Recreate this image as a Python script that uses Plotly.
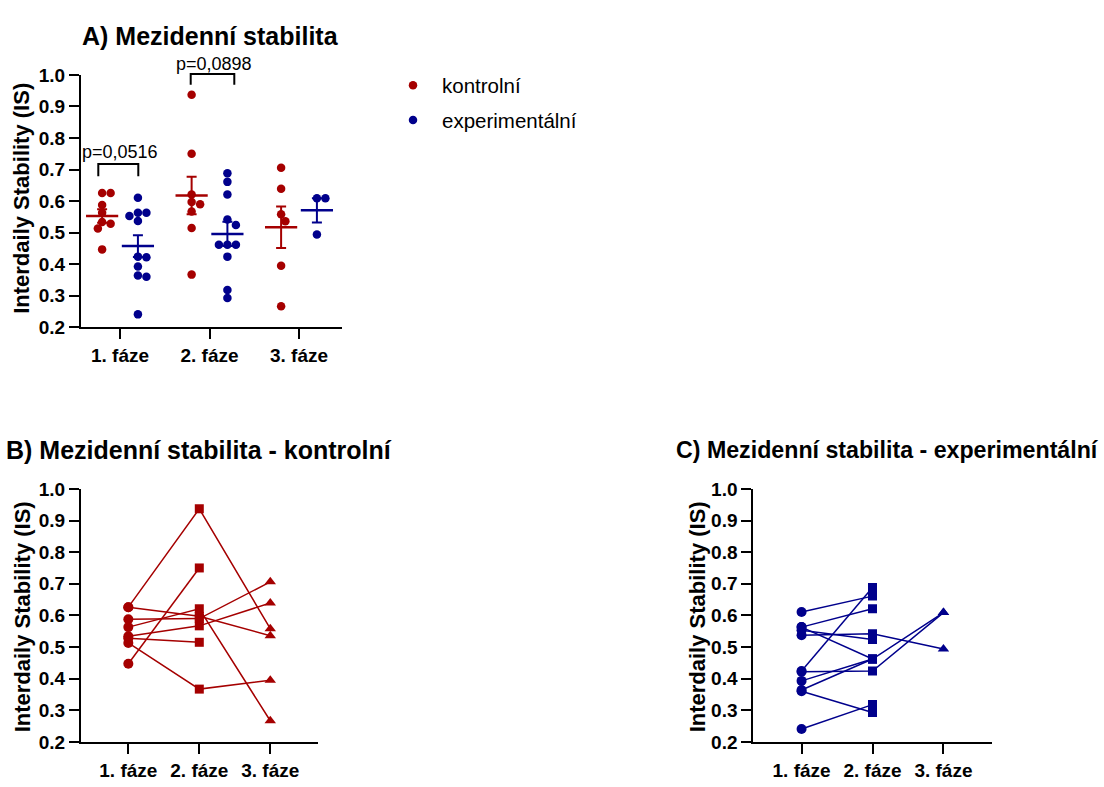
import numpy as np
import plotly.graph_objects as go

# ---------------- data ----------------
phases = ["1. fáze", "2. fáze", "3. fáze"]
groups = ["kontrolní", "experimentální"]

# control subjects (one entry per subject, NaN = no measurement)
ctrl_f1 = [0.626, 0.626, 0.588, 0.563, 0.534, 0.528, 0.513, 0.447]
ctrl_f2 = [0.937, 0.597, 0.590, 0.621, 0.567, 0.515, 0.367, 0.750]
ctrl_f3 = [0.558, 0.536, 0.706, 0.267, 0.639, np.nan, 0.395, np.nan]

# experimental subjects
exp_f1 = [0.611, 0.563, 0.563, 0.553, 0.537, 0.424, 0.422, 0.393, 0.364, 0.360, 0.241]
exp_f2 = [0.661, 0.621, 0.462, 0.524, 0.542, 0.688, 0.424, 0.462, 0.462, 0.293, 0.318]
exp_f3 = [np.nan, np.nan, np.nan, np.nan, 0.494, np.nan, 0.609, 0.609, np.nan, np.nan, np.nan]

p_labels = ["p=0,0516", "p=0,0898"]
yticks = [0.2, 0.3, 0.4, 0.5, 0.6, 0.7, 0.8, 0.9, 1.0]

RED = "#A50000"
BLUE = "#00008C"
FONT = "Arial, Liberation Sans, sans-serif"
W, H = 1104, 787


def px(x):
    return x / W


def py(y):
    return 1 - y / H


def swarm_offsets(vals, xpx, ypx, diam):
    vals = np.asarray(vals, dtype=float)
    order = np.argsort(-vals)
    placed = []
    offs = np.zeros(len(vals))
    cands = [0.0]
    for k in range(1, 12):
        cands += [k * diam * 0.5, -k * diam * 0.5]
    for i in order:
        yv = vals[i] * ypx
        chosen = cands[-1]
        for c in cands:
            if all((c - a) ** 2 + (yv - b) ** 2 >= (diam * 0.9) ** 2 for a, b in placed):
                chosen = c
                break
        placed.append((chosen, yv))
        offs[i] = chosen / xpx
    return offs


fig = go.Figure()

ctrl = [ctrl_f1, ctrl_f2, ctrl_f3]
expe = [exp_f1, exp_f2, exp_f3]

# ---------------- panel A ----------------
XPX_A, YPX_A = 89.5, 324.0
for gname, data, col, shift, lg in [("kontrolní", ctrl, RED, -0.2, "k"),
                                    ("experimentální", expe, BLUE, 0.2, "e")]:
    xs, ys = [], []
    means, sems, mx = [], [], []
    for pi, vals in enumerate(data):
        v = np.array([a for a in vals if not np.isnan(a)])
        off = swarm_offsets(v, XPX_A, YPX_A, 8.5)
        xs += list(pi + shift + off)
        ys += list(v)
        means.append(v.mean())
        sems.append(v.std(ddof=1) / np.sqrt(len(v)))
        mx.append(pi + shift)
    fig.add_trace(go.Scatter(
        x=xs, y=ys, mode="markers", name=gname, legendgroup=lg,
        marker=dict(color=col, size=8.5, opacity=1), xaxis="x", yaxis="y", showlegend=True))
    fig.add_trace(go.Scatter(
        x=mx, y=means, mode="markers", showlegend=False, xaxis="x", yaxis="y",
        marker=dict(symbol="line-ew", size=23, color=col, line=dict(color=col, width=2.5)),
        error_y=dict(type="data", array=sems, symmetric=True, color=col, thickness=2, width=5)))

# ---------------- panels B, C ----------------
symbols = ["circle", "square", "triangle-up"]
sizes = [10, 9, 10]
for data, col, xa, ya in [(ctrl, RED, "x2", "y2"), (expe, BLUE, "x3", "y3")]:
    nsub = len(data[0])
    for s in range(nsub):
        yv = [data[p][s] for p in range(3)]
        xv = [p for p in range(3) if not np.isnan(yv[p])]
        yy = [yv[p] for p in xv]
        fig.add_trace(go.Scatter(
            x=xv, y=yy, mode="lines+markers", showlegend=False, xaxis=xa, yaxis=ya,
            line=dict(color=col, width=1.5),
            marker=dict(color=col, opacity=1, symbol=[symbols[p] for p in xv],
                        size=[sizes[p] for p in xv], line=dict(width=0))))

# ---------------- axes ----------------
tickfont = dict(family=FONT, size=19, color="black", weight="bold")
common_x = dict(tickmode="array", tickvals=[0, 1, 2], ticktext=phases, showline=True,
                linewidth=2, linecolor="black", ticks="outside", ticklen=10, tickwidth=2,
                tickcolor="black", showgrid=False, zeroline=False, tickfont=tickfont,
                fixedrange=True)
common_y = dict(range=[0.2, 1.0], tickmode="array", tickvals=yticks,
                ticktext=[f"{t:.1f}" for t in yticks], showline=True, linewidth=2,
                linecolor="black", ticks="outside", ticklen=10, tickwidth=2,
                tickcolor="black", showgrid=False, zeroline=False, tickfont=tickfont,
                fixedrange=True)

fig.update_layout(
    xaxis=dict(common_x, domain=[px(81), px(341.7)], range=[-0.436, 2.477], anchor="y"),
    yaxis=dict(common_y, domain=[py(326), py(66.7)], anchor="x"),
    xaxis2=dict(common_x, domain=[px(81), px(317.6)], range=[-0.667, 2.667], anchor="y2"),
    yaxis2=dict(common_y, domain=[py(752), py(492)], anchor="x2"),
    xaxis3=dict(common_x, domain=[px(753.3), px(991.7)], range=[-0.68, 2.68], anchor="y3"),
    yaxis3=dict(common_y, domain=[py(752), py(492)], anchor="x3"),
)

# ---------------- titles & annotations ----------------
ann = []
for text, x, y, anchor, size in [("A) Mezidenní stabilita", 210, 27, "center", 25),
                                 ("B) Mezidenní stabilita - kontrolní", 198.5, 452, "center", 25),
                                 ("C) Mezidenní stabilita - experimentální", 1101, 452, "right", 23.2)]:
    ann.append(dict(text=text, x=px(x), y=py(y), xref="paper", yref="paper",
                    xanchor=anchor, yanchor="middle", showarrow=False,
                    font=dict(family=FONT, size=size, color="black", weight="bold")))
ytitle_font = dict(family=FONT, size=22, color="black", weight="bold")
for x, y in [(22, 194), (22, 624), (697, 624)]:
    ann.append(dict(text="Interdaily Stability (IS)", x=px(x), y=py(y), xref="paper",
                    yref="paper", xanchor="center", yanchor="middle", textangle=-90,
                    showarrow=False, font=ytitle_font))
pfont = dict(family=FONT, size=18, color="black")
for text, x, y in [(p_labels[0], 120, 146), (p_labels[1], 214, 55)]:
    ann.append(dict(text=text, x=px(x), y=py(y), xref="paper", yref="paper",
                    xanchor="center", yanchor="middle", showarrow=False, font=pfont))

shapes = []
for x0, x1, ytop, ybot in [(98.3, 138.3, 158.3, 170.7), (190.7, 234.3, 65.7, 76.7)]:
    path = (f"M {px(x0)},{py(ybot)} L {px(x0)},{py(ytop)} "
            f"L {px(x1)},{py(ytop)} L {px(x1)},{py(ybot)}")
    shapes.append(dict(type="path", path=path, xref="paper", yref="paper",
                       line=dict(color="black", width=2)))

fig.update_layout(
    width=W, height=H, margin=dict(l=0, r=0, t=0, b=0),
    paper_bgcolor="white", plot_bgcolor="white",
    annotations=ann, shapes=shapes,
    showlegend=True,
    legend=dict(x=px(384), y=py(57), xanchor="left", yanchor="top", itemwidth=48,
                font=dict(family=FONT, size=20.5, color="black"),
                traceorder="grouped", tracegroupgap=5, bgcolor="rgba(0,0,0,0)"),
    font=dict(family=FONT, color="black"),
)

fig.write_html("out.html")
